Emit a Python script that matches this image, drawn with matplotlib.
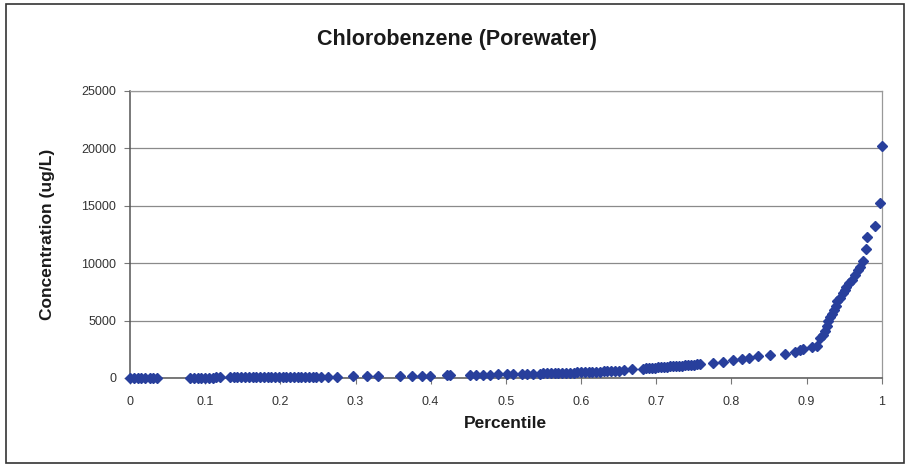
import matplotlib.pyplot as plt
from matplotlib.patches import Rectangle

plt.rcParams['font.family'] = ['Liberation Sans', 'DejaVu Sans']

# percentile (x) and concentration in ug/L (y)
percentile = [
    0.000, 0.005, 0.010, 0.015, 0.020, 0.026, 0.031, 0.036,
    0.080, 0.085, 0.090, 0.095, 0.100, 0.105, 0.110, 0.115, 0.120,
    0.133, 0.138, 0.143, 0.148, 0.153, 0.158, 0.163, 0.168, 0.173, 0.178,
    0.183, 0.188, 0.193, 0.198, 0.203, 0.208, 0.213, 0.218, 0.223, 0.228,
    0.233, 0.238, 0.243, 0.248, 0.254, 0.263, 0.275, 0.297, 0.315, 0.330,
    0.359, 0.375, 0.388, 0.399, 0.422, 0.426, 0.452, 0.460, 0.469, 0.479,
    0.489, 0.501, 0.509, 0.521, 0.528, 0.536,
    0.545, 0.550, 0.555, 0.560, 0.565, 0.570, 0.575, 0.580, 0.585, 0.590,
    0.595, 0.600, 0.605, 0.610, 0.615, 0.620, 0.625, 0.630, 0.635, 0.640,
    0.645, 0.650, 0.657, 0.668,
    0.682, 0.686, 0.690, 0.694, 0.698, 0.702, 0.706, 0.710, 0.714, 0.718,
    0.722, 0.726, 0.730, 0.734, 0.738, 0.742, 0.746, 0.750, 0.754, 0.758,
    0.775, 0.789, 0.802, 0.814, 0.824, 0.835, 0.851, 0.871, 0.884, 0.891,
    0.895, 0.907, 0.914, 0.918, 0.922, 0.924, 0.927, 0.928, 0.931, 0.934,
    0.937, 0.939, 0.941, 0.944, 0.948, 0.951, 0.953, 0.957, 0.960, 0.964,
    0.968, 0.971, 0.975, 0.979, 0.981, 0.991, 0.998, 1.000,
]
concentration = [
    5, 5, 6, 8, 10, 10, 12, 14,
    20, 22, 25, 27, 30, 32, 35, 38, 40,
    45, 48, 50, 52, 55, 58, 60, 62, 65, 68,
    70, 72, 75, 78, 80, 82, 85, 88, 90, 92,
    95, 98, 100, 105, 110, 115, 120, 130, 140, 150,
    170, 185, 200, 210, 230, 240, 260, 270, 280, 290,
    300, 320, 330, 340, 350, 360,
    380, 390, 400, 410, 420, 430, 440, 450, 460, 470,
    480, 490, 500, 510, 520, 535, 550, 565, 580, 600,
    620, 640, 680, 740,
    820, 840, 860, 880, 900, 920, 940, 960, 980, 1000,
    1020, 1040, 1060, 1080, 1100, 1120, 1140, 1160, 1180, 1200,
    1300, 1400, 1550, 1650, 1750, 1900, 2000, 2100, 2250, 2450,
    2550, 2650, 2750, 3500, 3700, 4100, 4500, 5000, 5300, 5600,
    5900, 6300, 6700, 7000, 7400, 7700, 7900, 8300, 8500, 9000,
    9400, 9700, 10200, 11200, 12300, 13200, 15200, 20200,
]

x_ticks = [0, 0.1, 0.2, 0.3, 0.4, 0.5, 0.6, 0.7, 0.8, 0.9, 1]
x_labels = ['0', '0.1', '0.2', '0.3', '0.4', '0.5', '0.6', '0.7', '0.8', '0.9', '1']
y_ticks = [0, 5000, 10000, 15000, 20000, 25000]

fig = plt.figure(figsize=(9.09, 4.66), dpi=100)
ax = fig.add_axes([0.143, 0.189, 0.827, 0.616])

# outer chart frame
fig.patches.append(Rectangle((0.007, 0.007), 0.988, 0.985, transform=fig.transFigure,
                             fill=False, edgecolor='#333333', linewidth=1.2))

ax.plot(percentile, concentration, linestyle='none', marker='D', markersize=5.3,
        color='#283f9c', clip_on=False, zorder=3)

ax.set_xlim(0, 1)
ax.set_ylim(0, 25000)
ax.set_xticks(x_ticks)
ax.set_xticklabels(x_labels)
ax.set_yticks(y_ticks)
ax.grid(axis='y', color='#8a8a8a', linewidth=0.9)
ax.set_axisbelow(True)

for side in ['left', 'bottom']:
    ax.spines[side].set_color('#555555')
    ax.spines[side].set_linewidth(1.1)
for side in ['top', 'right']:
    ax.spines[side].set_color('#999999')
    ax.spines[side].set_linewidth(0.9)

ax.tick_params(axis='both', direction='out', length=4, width=0.8, color='#777777',
               labelsize=9, labelcolor='#333333')
ax.tick_params(axis='x', pad=9)
ax.tick_params(axis='y', pad=6)

fig.text(0.503, 0.915, 'Chlorobenzene (Porewater)', fontsize=15.5, fontweight='bold',
         color='#1a1a1a', ha='center', va='center')
ax.set_xlabel('Percentile', fontsize=12.5, fontweight='bold', color='#1a1a1a', labelpad=6)
ax.set_ylabel('Concentration (ug/L)', fontsize=12.5, fontweight='bold', color='#1a1a1a')
ax.yaxis.set_label_coords(-0.1, 0.5)

fig.savefig('out.png', dpi=100)
